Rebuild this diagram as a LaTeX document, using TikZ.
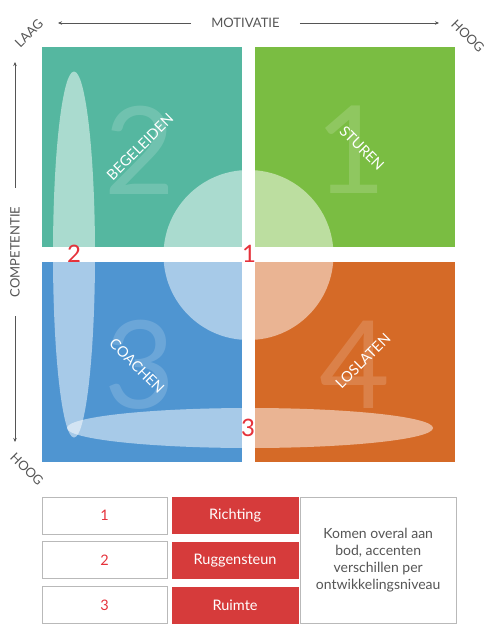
\documentclass[tikz,border=0pt]{standalone}
\usepackage{fontspec}
\setsansfont{Lato}
\definecolor{Tcol}{HTML}{55B7A0}
\definecolor{Gcol}{HTML}{7ABD42}
\definecolor{Bcol}{HTML}{4F95D1}
\definecolor{Ocol}{HTML}{D56A27}
\definecolor{Rcol}{HTML}{E5323B}
\definecolor{Boxcol}{HTML}{D63B3B}
\definecolor{Textcol}{HTML}{555555}
\usetikzlibrary{arrows.meta, positioning}
\tikzset{
    >={Stealth[length=4pt, width=3.5pt]},
    font=\sffamily
}

\begin{document}
\begin{tikzpicture}[x=1pt, y=-1pt,
    axis/.style={text=Textcol, font=\sffamily\fontsize{13}{13}\selectfont},
    quadtext/.style={text=white, font=\sffamily\fontsize{14.5}{14.5}\selectfont},
    bignum/.style={text=white, text opacity=0.16, font=\sffamily\fontsize{122}{122}\selectfont},
    marker/.style={text=Rcol, font=\sffamily\fontsize{24}{24}\selectfont},
    cell/.style={draw=gray!55, line width=0.8pt, minimum width=125pt, minimum height=37pt,
        inner sep=0pt, text=Rcol, font=\sffamily\fontsize{14.5}{14.5}\selectfont},
    redcell/.style={fill=Boxcol, minimum width=127pt, minimum height=37pt,
        inner sep=0pt, text=white, font=\sffamily\fontsize{14.5}{14.5}\selectfont},
    note/.style={draw=gray!55, line width=0.8pt, minimum width=156pt, minimum height=126pt,
        inner sep=0pt, text=Textcol, align=center, font=\sffamily\fontsize{14}{17}\selectfont}]
    \useasboundingbox (0,0) rectangle (499,637);
    \def\R{85pt}

    % Quadrants
    \fill[Tcol] (42,47) rectangle ++(200,200);
    \fill[Gcol] (255,47) rectangle ++(200,200);
    \fill[Bcol] (42,262) rectangle ++(200,200);
    \fill[Ocol] (255,262) rectangle ++(200,200);

    % Light shapes, cut to each quadrant
    \foreach \qx/\qy in {42/47, 255/47, 42/262, 255/262} {
        \begin{scope}
            \clip (\qx,\qy) rectangle ++(200,200);
            \fill[white, opacity=0.5] (248.5,255) circle (\R);
            \fill[white, opacity=0.5] (74,254.5) ellipse (21pt and 183pt);
            \fill[white, opacity=0.5] (250,428) ellipse (183pt and 20pt);
        \end{scope}
    }

    % Big numbers
    \node[bignum] (big2) at (140,150) {2};
    \node[bignum] (big1) at (351,150) {1};
    \node[bignum] (big3) at (140,365) {3};
    \node[bignum] (big4) at (355,365) {4};

    % Quadrant names
    \node[quadtext, rotate=45] (begel) at (140,147) {BEGELEIDEN};
    \node[quadtext, rotate=-45] (sturen) at (362,148) {STUREN};
    \node[quadtext, rotate=-45] (coach) at (137,366) {COACHEN};
    \node[quadtext, rotate=45] (loslat) at (363,361) {LOSLATEN};

    % Markers
    \node[marker] (m1) at (249,254) {1};
    \node[marker] (m2) at (74,254) {2};
    \node[marker] (m3) at (248,428) {3};

    % Axes
    \node[axis, inner xsep=20pt] (motiv) at (245.5,23) {MOTIVATIE};
    \coordinate (motL) at (58,23);
    \coordinate (motR) at (439,23);
    \draw[->, Textcol, line width=0.6pt] (motiv) -- (motL);
    \draw[->, Textcol, line width=0.6pt] (motiv) -- (motR);
    \node[axis, rotate=45] (laag) at (29,33) {LAAG};
    \node[axis, rotate=-45] (hoogR) at (468,36) {HOOG};

    \node[axis, rotate=90, inner xsep=19pt] (comp) at (15,252) {COMPETENTIE};
    \coordinate (compU) at (15,62);
    \coordinate (compD) at (15,442);
    \draw[->, Textcol, line width=0.6pt] (comp) -- (compU);
    \draw[->, Textcol, line width=0.6pt] (comp) -- (compD);
    \node[axis, rotate=-45] (hoogL) at (27,469) {HOOG};

    % Table
    \node[cell] (c1) at (104.5,515.5) {1};
    \node[cell, below=7pt of c1] (c2) {2};
    \node[cell, below=7pt of c2] (c3) {3};
    \node[redcell, right=4pt of c1] (r1) {Richting};
    \node[redcell, right=4pt of c2] (r2) {Ruggensteun};
    \node[redcell, right=4pt of c3] (r3) {Ruimte};
    \node[note, anchor=north west] (bod) at ([xshift=1pt]r1.north east)
        {Komen overal aan\\bod, accenten\\verschillen per\\ontwikkelingsniveau};
\end{tikzpicture}
\end{document}
